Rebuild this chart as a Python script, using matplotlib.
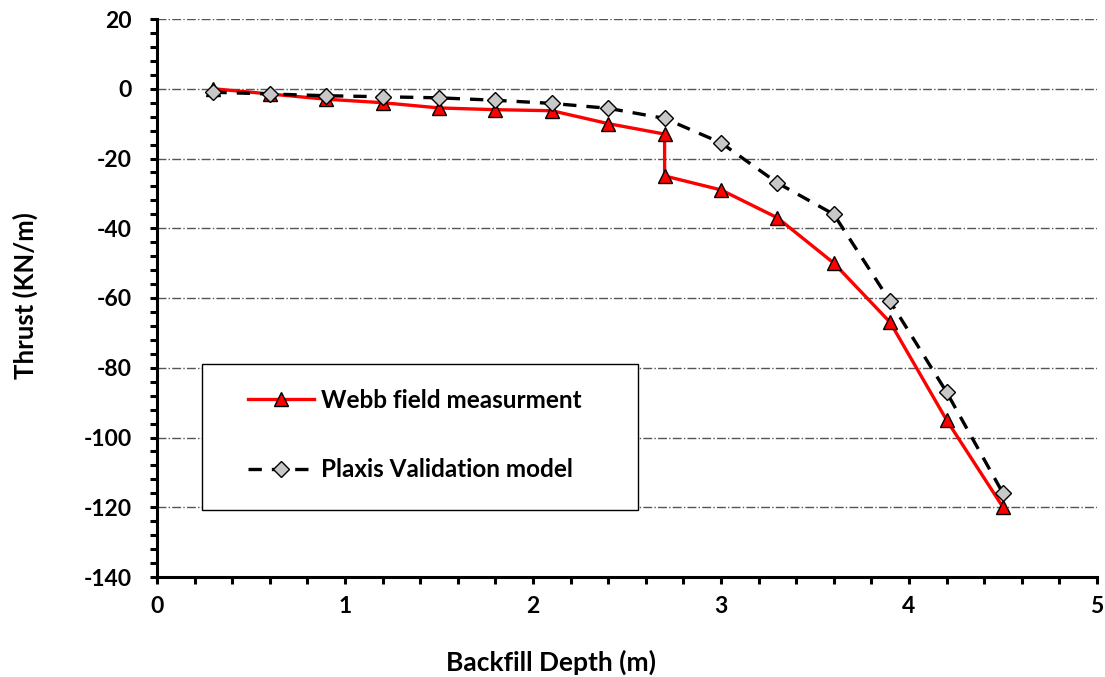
import matplotlib

matplotlib.use("Agg")
import matplotlib.pyplot as plt  # noqa: E402
from matplotlib.patches import Rectangle  # noqa: E402
from matplotlib.ticker import MultipleLocator  # noqa: E402

# Webb field measurement (red triangles); the step at 2.7 m is two points
webb_depth = [0.3, 0.6, 0.9, 1.2, 1.5, 1.8, 2.1, 2.4, 2.7, 2.7, 3.0, 3.3, 3.6, 3.9, 4.2, 4.5]
webb_thrust = [0.0, -1.5, -3.0, -4.0, -5.5, -6.0, -6.3, -10.0, -13.0, -25.0, -29.0, -37.0,
               -50.0, -67.0, -95.0, -120.0]

# Plaxis validation model (grey diamonds)
plaxis_depth = [0.3, 0.6, 0.9, 1.2, 1.5, 1.8, 2.1, 2.4, 2.7, 3.0, 3.3, 3.6, 3.9, 4.2, 4.5]
plaxis_thrust = [-1.0, -1.5, -2.0, -2.3, -2.6, -3.3, -4.2, -5.6, -8.5, -15.5, -27.0, -36.0,
                 -61.0, -87.0, -116.0]

plt.rcParams["font.family"] = ["Lato", "DejaVu Sans"]
plt.rcParams["axes.unicode_minus"] = False

W, H = 1105, 677
fig = plt.figure(figsize=(W / 100, H / 100), dpi=100)
ax = fig.add_axes([157 / W, 1 - 577 / H, 940 / W, 558 / H])

ax.plot(webb_depth, webb_thrust, color="#FF0000", linewidth=2.4, marker="^", markersize=10,
        markerfacecolor="#FF0000", markeredgecolor="black", markeredgewidth=1.0,
        label="Webb field measurment", zorder=3)
ax.plot(plaxis_depth, plaxis_thrust, color="black", linewidth=2.4, linestyle=(0, (4, 3)),
        marker="D", markersize=8, markerfacecolor="#C8C8C8", markeredgecolor="black",
        markeredgewidth=1.0, label="Plaxis Validation model", zorder=4)

ax.set_xlim(0, 5)
ax.set_ylim(-140, 20)
ax.xaxis.set_major_locator(MultipleLocator(1))
ax.xaxis.set_minor_locator(MultipleLocator(0.2))
ax.yaxis.set_major_locator(MultipleLocator(20))
ax.yaxis.set_minor_locator(MultipleLocator(4))

ax.grid(True, axis="y", which="major", linestyle="-.", color="#555555", linewidth=1.0)
ax.set_axisbelow(True)

for side in ("top", "right"):
    ax.spines[side].set_visible(False)
for side in ("left", "bottom"):
    ax.spines[side].set_linewidth(2.2)

ax.tick_params(axis="both", which="both", direction="out", length=5, width=2.2,
               labelsize=16.5)
ax.tick_params(axis="y", which="major", pad=13)
ax.tick_params(axis="x", which="major", pad=9)
for lbl in ax.get_xticklabels() + ax.get_yticklabels():
    lbl.set_fontweight("bold")

# axis titles sit where the original placed them (x title is left of centre)
fig.text(551 / W, 1 - 662 / H, "Backfill Depth (m)", fontsize=19, fontweight="bold",
         ha="center", va="center")
fig.text(25 / W, 1 - 296 / H, "Thrust (KN/m)", fontsize=18.5, fontweight="bold",
         rotation=90, ha="center", va="center")

# legend box drawn separately so its padding matches the original
box_x0, box_x1 = (202 - 157) / 940, (638 - 157) / 940
box_y0, box_y1 = (577 - 510) / 558, (577 - 364) / 558
ax.add_patch(Rectangle((box_x0, box_y0), box_x1 - box_x0, box_y1 - box_y0,
                       transform=ax.transAxes, facecolor="white", edgecolor="black",
                       linewidth=1.0, zorder=5))
leg = ax.legend(loc="center left", bbox_to_anchor=((248 - 157) / 940, (577 - 435) / 558),
                frameon=False, prop={"size": 17.5, "weight": "bold"}, handlelength=2.7,
                labelspacing=1.9, handletextpad=0.3, borderpad=0, borderaxespad=0)
leg.set_zorder(6)

fig.savefig("out.png", dpi=100)
